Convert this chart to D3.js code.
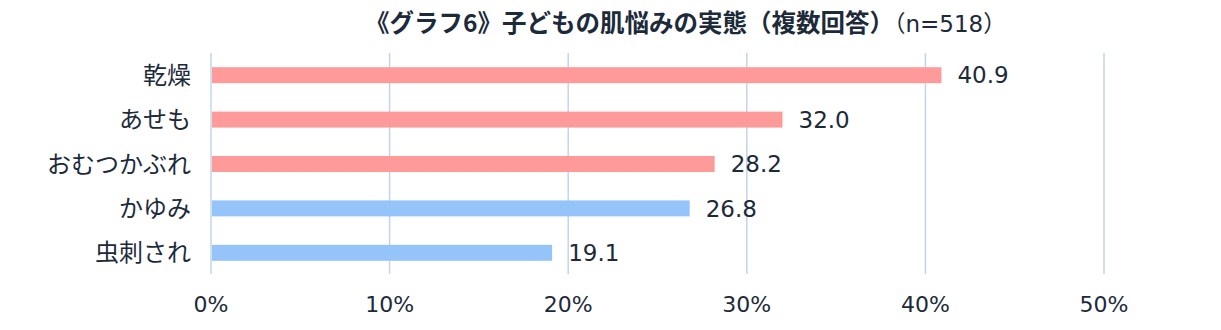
<!DOCTYPE html>
<html><head><meta charset="utf-8">
<script src="https://cdn.jsdelivr.net/npm/d3@7"></script>
<style>body{margin:0;background:#fff;} text{font-family:"DejaVu Sans","Noto Sans CJK JP",sans-serif;}</style>
</head><body><svg id="c" width="1221" height="330"></svg>
<script>
const categories = ["乾燥","あせも","おむつかぶれ","かゆみ","虫刺され"];
const values = [40.9, 32.0, 28.2, 26.8, 19.1];
const colorGroups = ["pink","pink","pink","blue","blue"];
const ticks = [0,10,20,30,40,50];
const titleMain = "《グラフ6》子どもの肌悩みの実態（複数回答）";
const titleSub = "（n=518）";

const svg = d3.select("#c");
const x = d3.scaleLinear().domain([0,50]).range([211,1104]);
const y = d3.scaleBand().domain(categories).range([53,275]).paddingInner(0.64).paddingOuter(0.32);
const col = {pink:"#fe9a9a", blue:"#94c4f9"};
const txt = "#1c2a3a";

svg.append("g").selectAll("line").data(ticks).join("line")
  .attr("x1",d=>x(d)).attr("x2",d=>x(d)).attr("y1",53).attr("y2",274)
  .attr("stroke","#c3d4e8").attr("stroke-width",1.5);

svg.append("g").selectAll("rect").data(values).join("rect")
  .attr("x",x(0)+1).attr("y",(d,i)=>y(categories[i]))
  .attr("width",d=>x(d)-x(0)-1).attr("height",y.bandwidth())
  .attr("fill",(d,i)=>col[colorGroups[i]]);

svg.append("g").selectAll("text").data(values).join("text")
  .attr("x",d=>x(d)+16).attr("y",(d,i)=>y(categories[i])+y.bandwidth()/2)
  .attr("dy","0.36em").attr("font-size",23).attr("fill",txt)
  .text(d=>d.toFixed(1));

svg.append("g").selectAll("text").data(categories).join("text")
  .attr("x",191).attr("y",d=>y(d)+y.bandwidth()/2).attr("dy","0.36em")
  .attr("text-anchor","end").attr("font-size",24).attr("fill",txt).text(d=>d);

svg.append("g").selectAll("text").data(ticks).join("text")
  .attr("x",d=>x(d)).attr("y",312).attr("text-anchor","middle")
  .attr("font-size",22).attr("fill",txt).text(d=>d+"%");

const t = svg.append("text").attr("x",365).attr("y",32).attr("fill",txt);
t.append("tspan").attr("font-size",24.5).attr("font-weight","bold").attr("font-family","Noto Sans CJK JP").text(titleMain);
t.append("tspan").attr("font-size",23).text(titleSub);
</script></body></html>
